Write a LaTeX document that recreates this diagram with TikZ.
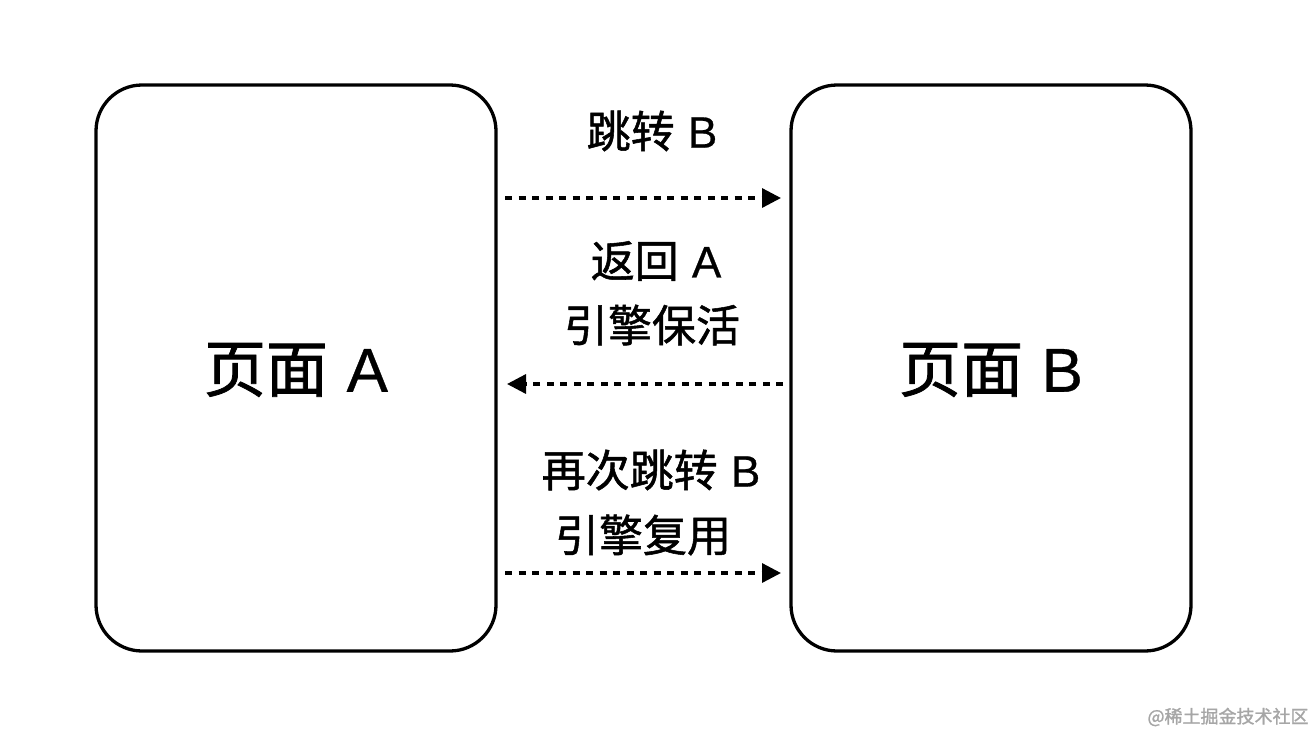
\documentclass[tikz,border=0pt]{standalone}
\usepackage{fontspec}
\setmainfont{Noto Sans CJK SC}[FakeBold=1.2]
\newfontfamily\lat{Liberation Sans}[FakeBold=0.6]
\usetikzlibrary{arrows.meta}
\begin{document}
\begin{tikzpicture}[x=1pt,y=-1pt,
  page/.style={draw=black,line width=3.3pt,rounded corners=46pt},
  flow/.style={line width=3.3pt,dash pattern=on 7pt off 6.5pt,-{Triangle[length=19pt,width=19pt]}},
  lbl/.style={font=\fontsize{44}{48}\selectfont,inner sep=0pt},
  big/.style={font=\fontsize{62}{66}\selectfont,inner sep=0pt}]
\useasboundingbox[fill=white] (0,0) rectangle (1314,734);
\draw[page] (96,85) rectangle (496,651);
\draw[page] (791,85) rectangle (1191,651);
\node[big] (pa) at (296,370) {页面\hspace{0.3em}{\lat A}};
\node[big] (pb) at (991,370) {页面\hspace{0.3em}{\lat B}};
\coordinate (a1) at (505,198); \coordinate (b1) at (781,198);
\coordinate (b2) at (783,384); \coordinate (a2) at (507,384);
\coordinate (a3) at (505,573); \coordinate (b3) at (781,573);
\draw[flow] (a1) -- (b1);
\draw[flow] (b2) -- (a2);
\draw[flow] (a3) -- (b3);
\node[lbl] (t1) at (652,131) {跳转\hspace{0.3em}{\lat B}};
\node[lbl] (t2a) at (656,261) {返回\hspace{0.3em}{\lat A}};
\node[lbl] (t2b) at (652,325) {引擎保活};
\node[lbl] (t3a) at (651,470) {再次跳转\hspace{0.3em}{\lat B}};
\node[lbl] (t3b) at (643,535) {引擎复用};
\node[font=\fontsize{18}{20}\selectfont,text=black!35,inner sep=0pt] (wm) at (1228,717) {@稀土掘金技术社区};
\end{tikzpicture}
\end{document}
